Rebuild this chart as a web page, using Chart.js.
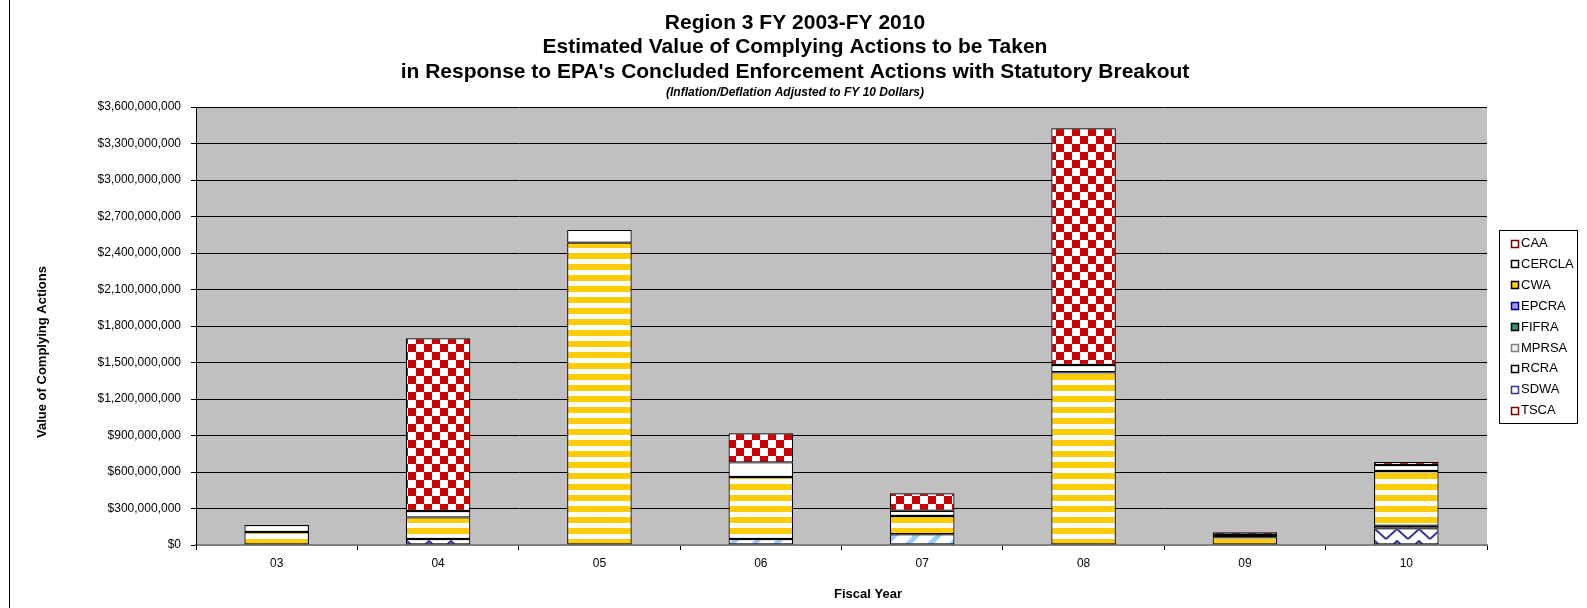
<!DOCTYPE html>
<html><head><meta charset="utf-8">
<script src="https://cdn.jsdelivr.net/npm/chart.js@4/dist/chart.umd.min.js"></script>
<style>html,body{margin:0;padding:0;background:#fff;overflow:hidden}canvas{display:block}</style>
</head><body>
<canvas id="c" width="1587" height="608"></canvas>
<script>
// ---------- data ----------
const categories = ['03', '04', '05', '06', '07', '08', '09', '10'];
const CAA    = [null, 1420e6, null, 240e6, 143e6, 1945e6, 22e6, 25e6];
const CERCLA = [57e6, 52e6, 105e6, 120e6, 44e6, 60e6, 19e6, 50e6];
const CWA    = [107e6, 178e6, 2485e6, 510e6, 150e6, 1420e6, 63e6, 450e6];
const EPCRA  = [null, null, null, null, null, null, null, null];
const FIFRA  = [null, null, null, null, null, null, null, null];
const MPRSA  = [null, null, null, null, null, null, null, null];
const RCRA   = [null, null, null, 49e6, 88e6, null, null, 21e6];
const SDWA   = [null, 49e6, null, null, null, null, null, 137e6];
const TSCA   = [null, null, null, null, null, null, null, null];
const legendNames = ['CAA', 'CERCLA', 'CWA', 'EPCRA', 'FIFRA', 'MPRSA', 'RCRA', 'SDWA', 'TSCA'];
const titleLines = ['Region 3 FY 2003-FY 2010', 'Estimated Value of Complying Actions to be Taken',
  "in Response to EPA's Concluded Enforcement Actions with Statutory Breakout"];
const subTitle = '(Inflation/Deflation Adjusted to FY 10 Dollars)';
const yTitle = 'Value of Complying Actions';
const xTitle = 'Fiscal Year';
const yMax = 3600e6, yStep = 300e6;

// ---------- patterns ----------
function makePattern(w, h, draw) {
  const c = document.createElement('canvas'); c.width = w; c.height = h;
  const g = c.getContext('2d'); g.fillStyle = '#fff'; g.fillRect(0, 0, w, h); draw(g);
  return document.getElementById('c').getContext('2d').createPattern(c, 'repeat');
}
const patCWA = makePattern(8, 11, g => { g.fillStyle = '#FFCC00'; g.fillRect(0, 0, 8, 6); });
const patCAA = makePattern(16, 16, g => { g.fillStyle = '#CC0000'; g.fillRect(0, 0, 8, 8); g.fillRect(8, 8, 8, 8); });
const patSDWA = makePattern(22, 12, g => {
  g.strokeStyle = '#333399'; g.lineWidth = 2; g.beginPath();
  g.moveTo(0, 11); g.lineTo(11, 1); g.lineTo(22, 11); g.stroke();
});
const patRCRA = makePattern(22, 22, g => {
  g.strokeStyle = '#99CCFF'; g.lineWidth = 5;
  for (const o of [-22, 0, 22]) { g.beginPath(); g.moveTo(o, 22); g.lineTo(o + 22, 0); g.stroke(); }
});

const seriesDefs = [
  ['TSCA', TSCA, '#ffffff'], ['SDWA', SDWA, patSDWA], ['RCRA', RCRA, patRCRA],
  ['MPRSA', MPRSA, '#EEEEEE'], ['FIFRA', FIFRA, '#339966'], ['EPCRA', EPCRA, '#9999FF'],
  ['CWA', CWA, patCWA], ['CERCLA', CERCLA, '#ffffff'], ['CAA', CAA, patCAA]
];
const legendMarks = {
  CAA: ['#ffffff', '#800000'], CERCLA: ['#ffffff', '#000000'], CWA: ['#FFCC00', '#000000'],
  EPCRA: ['#9999FF', '#000080'], FIFRA: ['#339966', '#000000'], MPRSA: ['#EEEEEE', '#808080'],
  RCRA: ['#ffffff', '#000000'], SDWA: ['#ffffff', '#333399'], TSCA: ['#ffffff', '#800000']
};

const FONT = '"Liberation Sans", Arial, sans-serif';

const deco = {
  id: 'deco',
  beforeDraw(chart) {
    const { ctx, chartArea: a } = chart;
    ctx.save();
    ctx.fillStyle = '#fff'; ctx.fillRect(0, 0, chart.width, chart.height);
    ctx.fillStyle = '#C0C0C0'; ctx.fillRect(a.left, a.top, a.right - a.left, a.bottom - a.top);
    ctx.restore();
  },
  afterDraw(chart) {
    const { ctx, chartArea: a } = chart;
    ctx.save();
    ctx.fillStyle = '#000'; ctx.textAlign = 'center'; ctx.textBaseline = 'middle';
    ctx.font = 'bold 21px ' + FONT;
    const cx = 795;
    ctx.fillText(titleLines[0], cx, 23);
    ctx.fillText(titleLines[1], cx, 47.5);
    ctx.fillText(titleLines[2], cx, 72);
    ctx.font = 'italic bold 12px ' + FONT;
    ctx.fillText(subTitle, cx, 93);
    // axis titles
    ctx.font = 'bold 13px ' + FONT;
    ctx.fillText(xTitle, 868, 594);
    ctx.save();
    ctx.translate(42, 352); ctx.rotate(-Math.PI / 2);
    ctx.fillText(yTitle, 0, 0);
    ctx.restore();
    // legend
    const lx = 1499, ly = 230, lw = 78, lh = 193;
    ctx.fillStyle = '#fff'; ctx.fillRect(lx, ly, lw, lh);
    ctx.strokeStyle = '#000'; ctx.lineWidth = 1; ctx.strokeRect(lx + 0.5, ly + 0.5, lw, lh);
    ctx.font = '13px ' + FONT; ctx.textAlign = 'left';
    legendNames.forEach((n, i) => {
      const y = 243.5 + i * 20.9;
      const [f, s] = legendMarks[n];
      ctx.fillStyle = f; ctx.fillRect(1511, Math.round(y) - 4, 8, 8);
      ctx.strokeStyle = s; ctx.lineWidth = 1.5; ctx.strokeRect(1511.5, Math.round(y) - 3.5, 7, 7);
      ctx.fillStyle = '#000'; ctx.fillText(n, 1521, y);
    });
    // chart border
    ctx.strokeStyle = '#000'; ctx.lineWidth = 1;
    ctx.beginPath(); ctx.moveTo(9.5, 0); ctx.lineTo(9.5, 608); ctx.stroke();
    ctx.restore();
  }
};

new Chart(document.getElementById('c'), {
  type: 'bar',
  data: {
    labels: categories,
    datasets: seriesDefs.map(([n, d, bg]) => ({
      label: n, data: d, backgroundColor: bg, borderColor: '#000', borderWidth: 1.2,
      borderSkipped: false, barPercentage: 0.4, categoryPercentage: 1
    }))
  },
  options: {
    responsive: false, animation: false, devicePixelRatio: 1,
    layout: { padding: { left: 0, top: 107, right: 100, bottom: 0 } },
    plugins: { legend: { display: false }, title: { display: false }, tooltip: { enabled: false } },
    scales: {
      x: {
        stacked: true, offset: true,
        grid: { display: true, drawOnChartArea: false, drawTicks: true, tickLength: 5, offset: true, tickColor: '#000' },
        border: { display: true, color: '#808080', width: 2 },
        ticks: { color: '#000', font: { family: FONT, size: 12 }, padding: 6, maxRotation: 0, autoSkip: false },
        afterFit(s) { s.height = 63; }
      },
      y: {
        stacked: true, min: 0, max: yMax,
        grid: { color: '#000', lineWidth: 1, drawTicks: true, tickLength: 5, tickColor: '#000' },
        border: { display: true, color: '#000', width: 1 },
        ticks: {
          stepSize: yStep, color: '#000', font: { family: FONT, size: 12 }, padding: 10,
          callback: v => '$' + Number(v).toLocaleString('en-US')
        },
        afterFit(s) { s.width = 196; }
      }
    }
  },
  plugins: [deco]
});
</script>
</body></html>
